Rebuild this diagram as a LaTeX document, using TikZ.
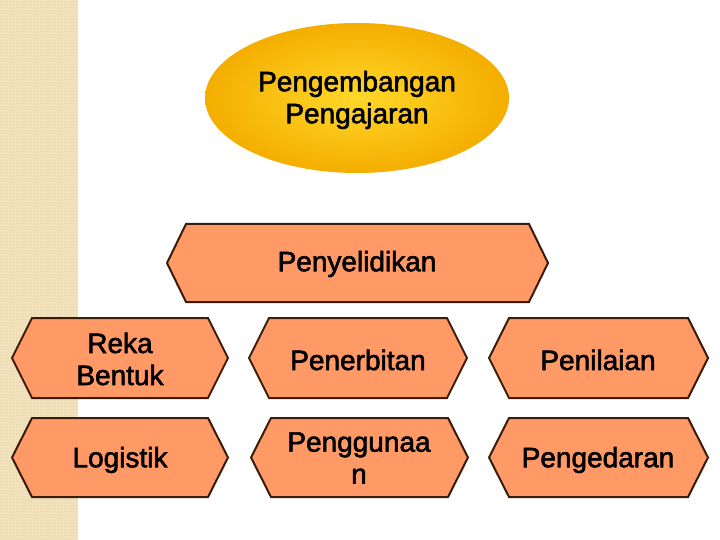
\documentclass[tikz,border=0pt]{standalone}
\usepackage{fontspec}
\setmainfont{Liberation Sans}
\usetikzlibrary{patterns}
\definecolor{stripbg}{HTML}{F3E4C0}
\definecolor{stripdot}{HTML}{E2CD9C}
\definecolor{boxfill}{HTML}{FF9966}
\definecolor{boxline}{HTML}{3A1C0A}
\definecolor{ellin}{HTML}{FFD82A}
\definecolor{ellout}{HTML}{F4AE00}
\newcommand{\fakebold}[1]{\special{pdf:literal direct 0.55 w 2 Tr}#1\special{pdf:literal direct 0 Tr}}
\tikzset{
  hexbox/.style={fill=boxfill, draw=boxline, line width=2pt, line join=miter},
  txt/.style={font=\fontsize{28}{32}\selectfont, align=center, inner sep=0pt, text=black}
}
\newcommand{\hexshape}[5]{% x1 x2 y1 y2 inset
  \path[hexbox] ({#1+#5},#3) -- ({#2-#5},#3) -- (#2,{(#3+#4)/2}) -- ({#2-#5},#4)
    -- ({#1+#5},#4) -- (#1,{(#3+#4)/2}) -- cycle;}
\newcommand{\blabel}[4]{% name x y text
  \node[txt] (#1) at (#2,#3) {\fakebold{#4}};}
\begin{document}
\begin{tikzpicture}[x=1pt,y=-1pt]
\useasboundingbox (0,0) rectangle (720,540);
\fill[white] (0,0) rectangle (720,540);
% left strip
\fill[stripbg] (0,0) rectangle (78,540);
\fill[pattern=crosshatch dots, pattern color=stripdot] (0,0) rectangle (78,540);
% ellipse
\shade[inner color=ellin, outer color=ellout] (357,98) ellipse [x radius=152, y radius=75];
\blabel{top}{357}{100}{Pengembangan\\Pengajaran}
% Penyelidikan
\hexshape{167}{548}{224}{302}{19}
\blabel{peny}{357}{264}{Penyelidikan}
% row 1
\hexshape{12}{228}{318}{398}{20}
\hexshape{249}{467}{318}{398}{20}
\hexshape{489}{708}{318}{398}{20}
% row 2
\hexshape{12}{228}{418}{497}{20}
\hexshape{251}{468}{418}{497}{20}
\hexshape{489}{708}{418}{497}{20}
\blabel{reka}{120}{359}{Reka\\Bentuk}
\blabel{pener}{358}{360}{Penerbitan}
\blabel{penil}{598}{360}{Penilaian}
\blabel{logi}{120}{460}{Logistik}
\blabel{pengg}{359}{458}{Penggunaa\\n}
\blabel{penge}{598}{460}{Pengedaran}
\end{tikzpicture}
\end{document}
